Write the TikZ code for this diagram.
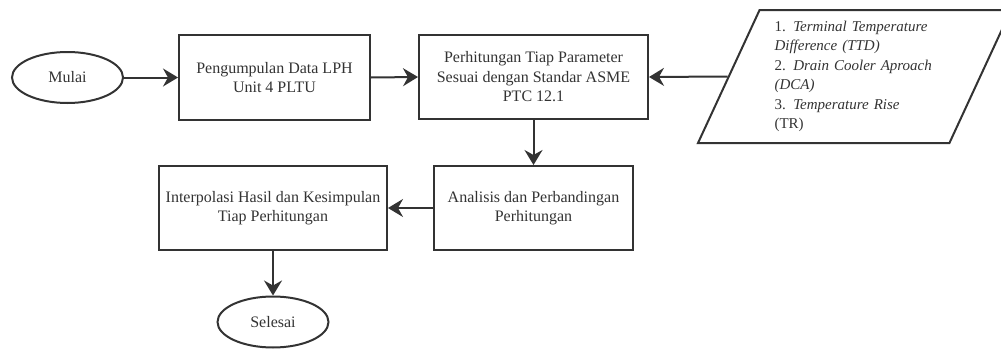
\documentclass[tikz,border=0pt]{standalone}
\usepackage{fontspec}
\setmainfont{Liberation Serif}
\usepackage{tikz}
\usetikzlibrary{arrows.meta, shapes.geometric}
\definecolor{inkgray}{RGB}{51,51,51}

\begin{document}
\begin{tikzpicture}[
    >={Stealth[length=15pt, width=18pt, inset=5pt]},
    line width=2pt,
    x=1pt, y=-1pt,
    color=inkgray,
    font=\fontsize{16}{19.5}\selectfont
]
    \clip (0,0) rectangle (1001,348);

    % Global styles for the flowchart
    \tikzset{
        proc/.style={draw, rectangle, align=center, inner sep=0pt},
        term/.style={draw, ellipse, minimum width=111pt, minimum height=51pt, inner sep=0pt},
        datain/.style={
            draw, trapezium, trapezium left angle=61, trapezium right angle=119,
            trapezium stretches body, minimum width=313pt, minimum height=133pt,
            text width=160pt, align=left, inner sep=0pt,
            font=\fontsize{15}{19.5}\selectfont
        }
    }

    % Start
    \node[term] (Start) at (67.5, 77.5) {Mulai};

    % Top row
    \node[proc, minimum width=191pt, minimum height=85pt] (P1) at (274.5, 77.5) {Pengumpulan Data LPH\\Unit 4 PLTU};
    \node[proc, minimum width=229pt, minimum height=84pt] (P2) at (533.5, 77) {Perhitungan Tiap Parameter\\Sesuai dengan Standar ASME\\PTC 12.1};

    % Input data (parallelogram, cut by the right edge)
    \node[datain] (Par) at (854.5, 76.5) {1. \textit{Terminal Temperature}\\\textit{Difference (TTD)}\\2. \textit{Drain Cooler Aproach}\\\textit{(DCA)}\\3. \textit{Temperature Rise}\\(TR)};

    % Bottom row
    \node[proc, minimum width=199pt, minimum height=84pt] (P3) at (533.5, 208) {Analisis dan Perbandingan\\Perhitungan};
    \node[proc, minimum width=228pt, minimum height=84pt] (P4) at (273, 208) {Interpolasi Hasil dan Kesimpulan\\Tiap Perhitungan};

    % End
    \node[term] (Stop) at (273, 322) {Selesai};

    % Wiring
    \draw[->] (Start.east) -- (P1.west);
    \draw[->] (P1.east) -- (P2.west);
    \draw[->] (Par.west) -- (P2.east);
    \draw[->] (P2.south) -- (P3.north);
    \draw[->] (P3.west) -- (P4.east);
    \draw[->] (P4.south) -- (Stop.north);

\end{tikzpicture}
\end{document}
